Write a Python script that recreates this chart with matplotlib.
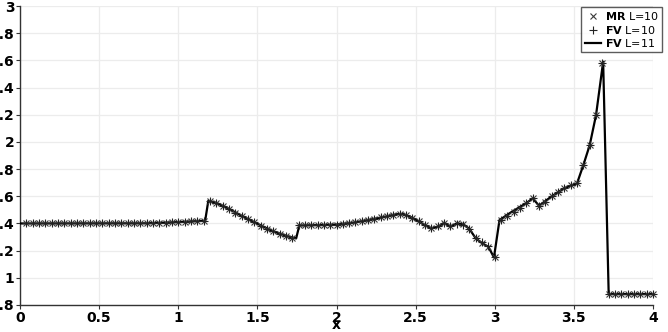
import numpy as np
import matplotlib
matplotlib.use("Agg")
import matplotlib.pyplot as plt
from matplotlib import font_manager

# ---------------- data ----------------
marker_x = [round(0.04 * i, 2) for i in range(1, 101)]

mr_l10 = [
    1.400, 1.400, 1.400, 1.400, 1.400, 1.400, 1.400, 1.400, 1.400, 1.400,   # 0.04-0.40
    1.400, 1.400, 1.400, 1.400, 1.400, 1.400, 1.400, 1.400, 1.400, 1.401,   # 0.44-0.80
    1.402, 1.404, 1.406, 1.408, 1.410, 1.412, 1.415, 1.417, 1.419, 1.567,   # 0.84-1.20
    1.552, 1.530, 1.505, 1.480, 1.455, 1.432, 1.408, 1.384, 1.362, 1.342,   # 1.24-1.60
    1.325, 1.310, 1.295, 1.385, 1.386, 1.387, 1.388, 1.389, 1.390, 1.392,   # 1.64-2.00
    1.396, 1.401, 1.408, 1.416, 1.425, 1.435, 1.445, 1.455, 1.465, 1.470,   # 2.04-2.40
    1.462, 1.442, 1.415, 1.385, 1.364, 1.378, 1.405, 1.378, 1.400, 1.395,   # 2.44-2.80
    1.360, 1.290, 1.255, 1.230, 1.150, 1.425, 1.455, 1.483, 1.512, 1.550,   # 2.84-3.20
    1.585, 1.530, 1.560, 1.600, 1.635, 1.660, 1.680, 1.695, 1.830, 1.976,   # 3.24-3.60
    2.197, 2.577, 0.880, 0.880, 0.880, 0.880, 0.880, 0.880, 0.880, 0.880,   # 3.64-4.00
]

fv_l10 = [
    1.400, 1.400, 1.400, 1.400, 1.400, 1.400, 1.400, 1.400, 1.400, 1.400,
    1.400, 1.400, 1.400, 1.400, 1.400, 1.400, 1.400, 1.400, 1.400, 1.401,
    1.402, 1.404, 1.406, 1.408, 1.410, 1.412, 1.415, 1.417, 1.419, 1.565,
    1.552, 1.530, 1.505, 1.480, 1.455, 1.432, 1.408, 1.384, 1.362, 1.342,
    1.325, 1.310, 1.293, 1.385, 1.386, 1.387, 1.388, 1.389, 1.390, 1.392,
    1.396, 1.401, 1.408, 1.416, 1.425, 1.435, 1.445, 1.455, 1.465, 1.470,
    1.462, 1.442, 1.415, 1.385, 1.366, 1.380, 1.400, 1.382, 1.398, 1.392,
    1.358, 1.295, 1.262, 1.232, 1.152, 1.425, 1.455, 1.483, 1.512, 1.550,
    1.585, 1.532, 1.560, 1.600, 1.635, 1.660, 1.680, 1.695, 1.830, 1.976,
    2.197, 2.580, 0.880, 0.880, 0.880, 0.880, 0.880, 0.880, 0.880, 0.880,
]

fv_l11_x = [0.00, 0.80, 1.00, 1.17, 1.19, 1.24, 1.30, 1.40, 1.50, 1.60,
            1.70, 1.745, 1.765, 1.90, 2.00, 2.10, 2.20, 2.30, 2.38, 2.42,
            2.48, 2.54, 2.60, 2.645, 2.68, 2.72, 2.76, 2.80, 2.84, 2.88,
            2.92, 2.96, 2.995, 3.03, 3.10, 3.20, 3.24, 3.28, 3.36, 3.44,
            3.52, 3.56, 3.60, 3.64, 3.685, 3.72, 4.00]
fv_l11_y = [1.400, 1.401, 1.410, 1.420, 1.567, 1.552, 1.520, 1.457, 1.398, 1.342,
            1.303, 1.290, 1.385, 1.388, 1.392, 1.405, 1.425, 1.448, 1.468, 1.470,
            1.442, 1.400, 1.364, 1.378, 1.405, 1.378, 1.400, 1.395, 1.360, 1.290,
            1.255, 1.228, 1.150, 1.425, 1.480, 1.550, 1.585, 1.530, 1.600, 1.660,
            1.695, 1.830, 1.976, 2.197, 2.590, 0.880, 0.880]

x_ticks = [0, 0.5, 1, 1.5, 2, 2.5, 3, 3.5, 4]
x_tick_labels = ["0", "0.5", "1", "1.5", "2", "2.5", "3", "3.5", "4"]
y_ticks = [0.8, 1, 1.2, 1.4, 1.6, 1.8, 2, 2.2, 2.4, 2.6, 2.8, 3]
y_tick_labels = ["0.8", "1", "1.2", "1.4", "1.6", "1.8", "2", "2.2", "2.4", "2.6", "2.8", "3"]

# ---------------- style ----------------
names = {f.name for f in font_manager.fontManager.ttflist}
fam = "Liberation Sans Narrow" if "Liberation Sans Narrow" in names else "DejaVu Sans"
plt.rcParams['font.family'] = [fam, 'DejaVu Sans']

fig = plt.figure(figsize=(6.68, 3.32), dpi=100)
ax = fig.add_axes([20 / 668, 27 / 332, 633 / 668, 299 / 332])

ax.plot(fv_l11_x, fv_l11_y, color="black", lw=1.6, label="FV L=11", zorder=3)
ax.plot(marker_x, mr_l10, ls="none", marker="x", ms=5, mew=0.8,
        color="#3a3a3a", label="MR L=10", zorder=4, clip_on=False)
ax.plot(marker_x, fv_l10, ls="none", marker="+", ms=6, mew=0.8,
        color="#222222", label="FV L=10", zorder=4, clip_on=False)

ax.set_xlim(0, 4)
ax.set_ylim(0.8, 3)
ax.set_xticks(x_ticks)
ax.set_xticklabels(x_tick_labels)
ax.set_yticks(y_ticks)
ax.set_yticklabels(y_tick_labels)

for s in ["top", "right"]:
    ax.spines[s].set_visible(False)
for s in ["left", "bottom"]:
    ax.spines[s].set_color("#333333")
    ax.spines[s].set_linewidth(1.0)

ax.grid(True, color="#ececec", lw=0.9)
ax.set_axisbelow(True)
ax.tick_params(axis="both", direction="out", length=3, width=0.8, color="#333333",
               labelsize=10, pad=1)
for lab in ax.get_xticklabels() + ax.get_yticklabels():
    lab.set_fontweight("bold")

ax.set_xlabel("x", fontsize=10, fontweight="bold", labelpad=-5)

handles, labels = ax.get_legend_handles_labels()
order = [1, 2, 0]
leg = fig.legend([handles[i] for i in order],
                 [r"$\mathbf{MR}$ L=10", r"$\mathbf{FV}$ L=10", r"$\mathbf{FV}$ L=11"],
                 loc="upper right", bbox_to_anchor=(662 / 668, 1 - 7 / 332),
                 frameon=True, fancybox=False, fontsize=8, handlelength=1.5,
                 handletextpad=0.3, borderpad=0.3, labelspacing=0.12,
                 borderaxespad=0)
leg.get_frame().set_edgecolor("#333333")
leg.get_frame().set_linewidth(1.0)

fig.savefig("out.png", dpi=100)
